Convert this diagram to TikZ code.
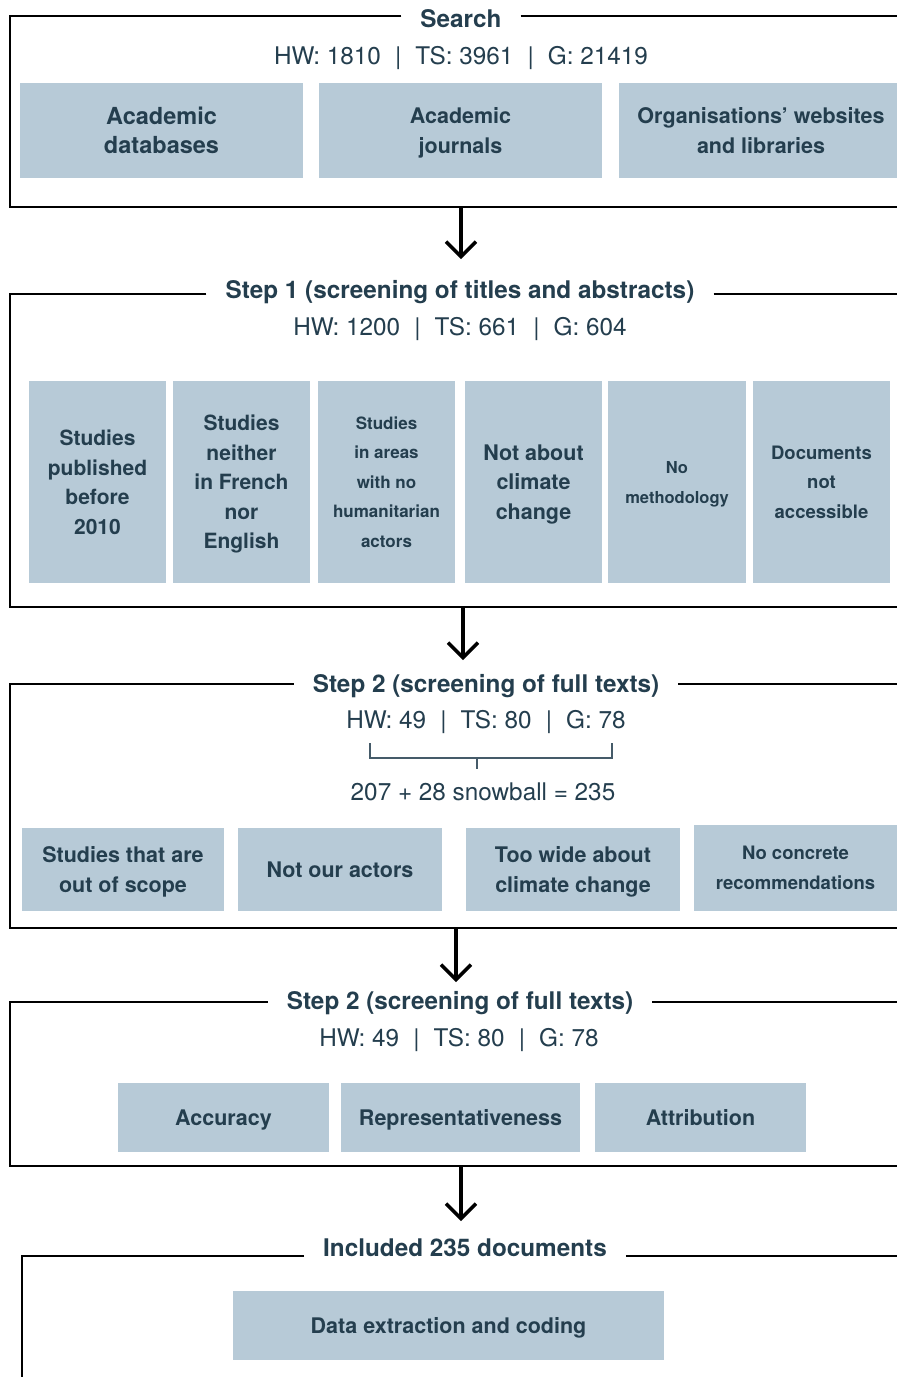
\documentclass[tikz,border=0pt]{standalone}
\usepackage{fontspec}
\setmainfont{TeX Gyre Heros}
\usepackage{tikz}
\usetikzlibrary{arrows.meta}
\definecolor{boxblue}{HTML}{B7CAD7}
\definecolor{ink}{HTML}{243E4E}
\newcommand{\cntsep}{\hspace{0.58em}|\hspace{0.58em}}

\begin{document}
\begin{tikzpicture}[x=1pt,y=-1pt,
    frame/.style={line width=2.6pt},
    headline/.style={anchor=base, text=ink, inner xsep=19pt, inner ysep=0pt,
      font=\bfseries\fontsize{24.3}{28}\selectfont},
    counts/.style={anchor=base, text=ink, inner sep=0pt,
      font=\fontsize{24.3}{28}\selectfont},
    crit/.style={fill=boxblue, text=ink, align=center, inner sep=0pt, text depth=0pt,
      font=\bfseries\fontsize{21.5}{29.5}\selectfont},
    smallcrit/.style={crit, font=\bfseries\fontsize{17}{29.5}\selectfont},
    flow/.style={line width=3.5pt, -{Straight Barb[length=15pt,width=30pt]}},
    brace/.style={line width=1.4pt, draw=ink!85}]
    \useasboundingbox (0,0) rectangle (897,1377);

    % Search
    \node[headline] (t0) at (461,27) {Search};
    \node[counts] (n0) at (461,64) {HW: 1810\cntsep TS: 3961\cntsep G: 21419};
    \coordinate (y0) at (0,16);
    \draw[frame] (t0.west |- y0) -- (10,16) -- (10,207) -- (897,207);
    \draw[frame] (t0.east |- y0) -- (897,16);
    \node[crit, minimum width=283, minimum height=95, font=\bfseries\fontsize{23.5}{29}\selectfont]
        (b01) at (161.5,130.5) {Academic\\databases};
    \node[crit, minimum width=283, minimum height=95] (b02) at (460.5,130.5) {Academic\\journals};
    \node[crit, minimum width=284, minimum height=95] (b03) at (761,130.5) {Organisations’ websites\\and libraries};

    % Step 1
    \coordinate (a1) at (461,207);
    \coordinate (e1) at (461,259);
    \draw[flow] (a1) -- (e1);
    \node[headline] (t1) at (460,298) {Step 1 (screening of titles and abstracts)};
    \node[counts] (n1) at (460,335) {HW: 1200\cntsep TS: 661\cntsep G: 604};
    \coordinate (y1) at (0,294);
    \draw[frame] (t1.west |- y1) -- (10,294) -- (10,607) -- (897,607);
    \draw[frame] (t1.east |- y1) -- (897,294);
    \node[crit, minimum width=137, minimum height=202, font=\bfseries\fontsize{21}{29.5}\selectfont]
        (b11) at (97.5,482) {Studies\\published\\before\\2010};
    \node[crit, minimum width=137, minimum height=202, font=\bfseries\fontsize{21}{29.5}\selectfont]
        (b12) at (241.5,482) {Studies\\neither\\in French\\nor\\English};
    \node[smallcrit, minimum width=137, minimum height=202] (b13) at (386.5,482) {Studies\\in areas\\with no\\humanitarian\\actors};
    \node[crit, minimum width=137, minimum height=202] (b14) at (533.5,482) {Not about\\climate\\change};
    \node[smallcrit, minimum width=138, minimum height=202, font=\bfseries\fontsize{16.5}{30}\selectfont]
        (b15) at (677,482) {No\\methodology};
    \node[smallcrit, minimum width=137, minimum height=202, font=\bfseries\fontsize{18.5}{29.5}\selectfont]
        (b16) at (821.5,482) {Documents\\not\\accessible};

    % Step 2
    \coordinate (a2) at (463,607);
    \coordinate (e2) at (463,660);
    \draw[flow] (a2) -- (e2);
    \node[headline] (t2) at (486,692) {Step 2 (screening of full texts)};
    \node[counts] (n2) at (486,728) {HW: 49\cntsep TS: 80\cntsep G: 78};
    \coordinate (y2) at (0,684);
    \draw[frame] (t2.west |- y2) -- (10,684) -- (10,928) -- (897,928);
    \draw[frame] (t2.east |- y2) -- (897,684);
    \draw[brace] (370,743) -- (370,758) -- (612,758) -- (612,743);
    \draw[brace] (477,758) -- (477,769);
    \node[counts] (s2) at (483,800) {207 + 28 snowball = 235};
    \node[crit, minimum width=202, minimum height=83] (b21) at (123,869.5) {Studies that are\\out of scope};
    \node[crit, minimum width=204, minimum height=83] (b22) at (340,869.5) {Not our actors};
    \node[crit, minimum width=214, minimum height=83] (b23) at (573,869.5) {Too wide about\\climate change};
    \node[crit, minimum width=203, minimum height=86, font=\bfseries\fontsize{18.5}{30}\selectfont]
        (b24) at (795.5,868) {No concrete\\recommendations};

    % Step 3
    \coordinate (a3) at (456,928);
    \coordinate (e3) at (456,982);
    \draw[flow] (a3) -- (e3);
    \node[headline] (t3) at (460,1009) {Step 2 (screening of full texts)};
    \node[counts] (n3) at (459,1046) {HW: 49\cntsep TS: 80\cntsep G: 78};
    \coordinate (y3) at (0,1002);
    \draw[frame] (t3.west |- y3) -- (10,1002) -- (10,1166) -- (897,1166);
    \draw[frame] (t3.east |- y3) -- (897,1002);
    \node[crit, minimum width=211, minimum height=69] (b31) at (223.5,1117.5) {Accuracy};
    \node[crit, minimum width=239, minimum height=69] (b32) at (460.5,1117.5) {Representativeness};
    \node[crit, minimum width=211, minimum height=69] (b33) at (700.5,1117.5) {Attribution};

    % Included documents
    \coordinate (a4) at (461,1166);
    \coordinate (e4) at (461,1221);
    \draw[flow] (a4) -- (e4);
    \node[headline] (t4) at (465,1256) {Included 235 documents};
    \coordinate (y4) at (0,1256);
    \draw[frame] (t4.west |- y4) -- (22,1256) -- (22,1390);
    \draw[frame] (t4.east |- y4) -- (897,1256);
    \node[crit, minimum width=431, minimum height=69] (b41) at (448.5,1325.5) {Data extraction and coding};
\end{tikzpicture}
\end{document}
